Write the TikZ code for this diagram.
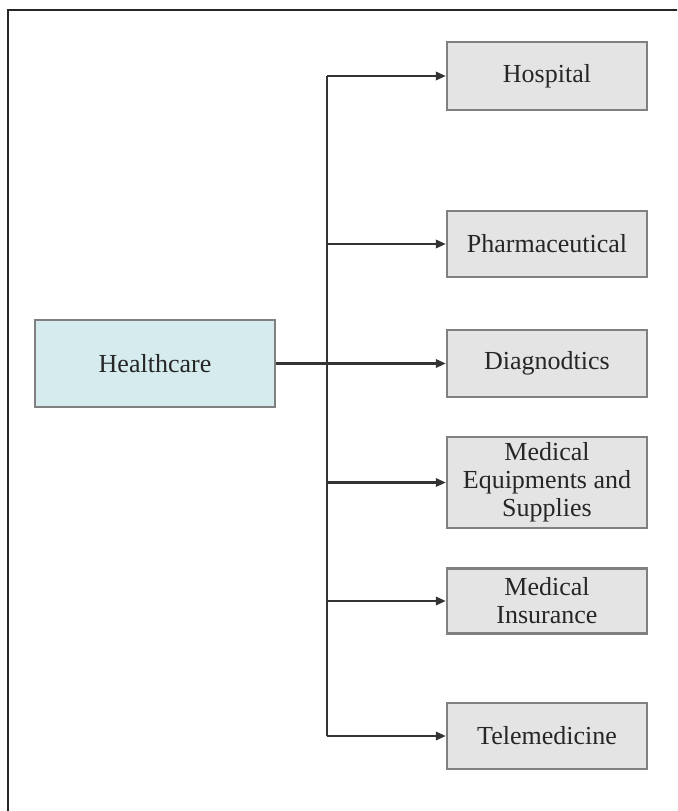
\documentclass[tikz,border=0pt]{standalone}
\usepackage{fontspec}
\setmainfont{Liberation Serif}
\usetikzlibrary{arrows.meta}
\definecolor{boxgray}{HTML}{E4E4E4}
\definecolor{boxedge}{HTML}{808080}
\definecolor{hcfill}{HTML}{D5EBEE}
\definecolor{linecol}{HTML}{333333}
\tikzset{
  catbox/.style={draw=boxedge, line width=1.2pt, fill=boxgray, minimum width=100pt, inner sep=0pt,
    align=center, font=\fontsize{13}{14}\selectfont, text=black!85},
  rootbox/.style={draw=boxedge, line width=1.2pt, fill=hcfill, minimum width=120pt, minimum height=43.5pt,
    inner sep=0pt, align=center, font=\fontsize{13}{14}\selectfont, text=black!85},
  conn/.style={draw=linecol, line width=1.1pt},
  arr/.style={conn, -{Triangle[length=5pt,width=4.2pt]}}
}
\begin{document}
\begin{tikzpicture}[x=0.5pt,y=-0.5pt]
\useasboundingbox (0,0) rectangle (677,811);
\clip (0,0) rectangle (677,811);
\fill[white] (0,0) rectangle (677,811);
\draw[draw=black!85, line width=1.3pt] (8,10) rectangle (700,840);

\node[rootbox] (hc) at (155,363.5) {Healthcare};
\node[catbox, minimum height=34pt] (hosp) at (547,76) {Hospital};
\node[catbox, minimum height=33pt] (pharm) at (547,244) {Pharmaceutical};
\node[catbox, minimum height=33.5pt] (diag) at (547,363.5) {Diagnodtics};
\node[catbox, minimum height=45.5pt] (equip) at (547,482.5) {Medical\\Equipments and\\Supplies};
\node[catbox, minimum height=32.5pt] (ins) at (547,601) {Medical\\Insurance};
\node[catbox, minimum height=33pt] (tele) at (547,736) {Telemedicine};

\coordinate (sx) at (327,0);
\draw[conn] (hosp.west -| sx) -- (tele.west -| sx);
\draw[arr] (hc.east) -- (diag.west);
\draw[arr] (hosp.west -| sx) -- (hosp.west);
\draw[arr] (pharm.west -| sx) -- (pharm.west);
\draw[arr] (equip.west -| sx) -- (equip.west);
\draw[arr] (ins.west -| sx) -- (ins.west);
\draw[arr] (tele.west -| sx) -- (tele.west);
\end{tikzpicture}
\end{document}
